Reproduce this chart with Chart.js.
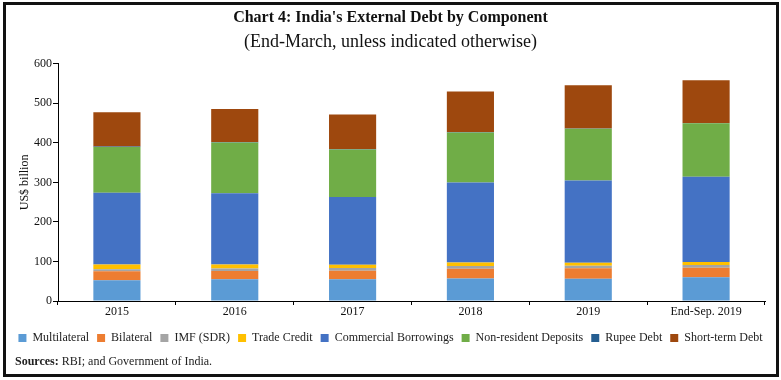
<!DOCTYPE html>
<html>
<head>
<meta charset="utf-8">
<script src="https://cdn.jsdelivr.net/npm/chart.js@4.4.1/dist/chart.umd.min.js"></script>
<style>
  html, body { margin: 0; padding: 0; background: #fff; }
  #wrap { position: relative; width: 781px; height: 380px; overflow: hidden; }
  #c { position: absolute; left: 0; top: 0; }
  #frame { position: absolute; left: 3px; top: 2px; width: 770px; height: 369px; border: 3px solid #111; pointer-events: none; }
  #src { position: absolute; left: 15px; top: 354px; font: 12px "Liberation Serif", serif; color: #222; }
</style>
</head>
<body>
<div id="wrap">
  <canvas id="c" width="781" height="380"></canvas>
  <div id="frame"></div>
  <div id="src"><b>Sources:</b> RBI; and Government of India.</div>
</div>
<script>
const categories = ['2015', '2016', '2017', '2018', '2019', 'End-Sep. 2019'];
const multilateral = [52.5, 55.0, 55.0, 57.0, 56.5, 60.0];
const bilateral = [22.8, 21.0, 21.8, 24.3, 26.4, 24.3];
const imfSdr = [5.0, 6.0, 6.5, 7.0, 6.0, 6.5];
const tradeCredit = [12.0, 10.5, 8.5, 9.4, 7.6, 7.6];
const commercialBorrowings = [181.5, 180.0, 171.5, 202.0, 208.0, 216.0];
const nonResidentDeposits = [115.5, 128.5, 120.0, 126.8, 131.0, 135.0];
const rupeeDebt = [1.5, 1.4, 1.3, 1.2, 1.1, 1.1];
const shortTermDebt = [86.5, 83.0, 87.0, 102.0, 109.0, 108.0];
const yTicks = [0, 100, 200, 300, 400, 500, 600];

const seriesNames = ['Multilateral', 'Bilateral', 'IMF (SDR)', 'Trade Credit', 'Commercial Borrowings', 'Non-resident Deposits', 'Rupee Debt', 'Short-term Debt'];
const seriesData = [multilateral, bilateral, imfSdr, tradeCredit, commercialBorrowings, nonResidentDeposits, rupeeDebt, shortTermDebt];
const seriesColors = ['#5B9BD5', '#ED7D31', '#A5A5A5', '#FFC000', '#4472C4', '#70AD47', '#255E91', '#9E480E'];

const serif = '"Liberation Serif", "DejaVu Serif", serif';

new Chart(document.getElementById('c'), {
  type: 'bar',
  data: {
    labels: categories,
    datasets: seriesNames.map((n, i) => ({
      label: n,
      data: seriesData[i],
      backgroundColor: seriesColors[i],
      borderWidth: 0,
      barPercentage: 0.4,
      categoryPercentage: 1.0
    }))
  },
  options: {
    responsive: false,
    devicePixelRatio: 1,
    animation: false,
    layout: { padding: { left: 0, right: 0, top: 0, bottom: 26 } },
    plugins: {
      title: {
        display: true,
        text: "Chart 4: India's External Debt by Component",
        color: '#111',
        font: { family: serif, size: 16, weight: 'bold' },
        padding: { top: 8, bottom: 0 }
      },
      subtitle: {
        display: true,
        text: '(End-March, unless indicated otherwise)',
        color: '#111',
        font: { family: serif, size: 18 },
        padding: { top: 4, bottom: 11 }
      },
      legend: {
        position: 'bottom',
        labels: {
          boxWidth: 8,
          boxHeight: 8,
          padding: 8,
          color: '#222',
          font: { family: serif, size: 12 }
        }
      },
      tooltip: { enabled: false }
    },
    scales: {
      x: {
        stacked: true,
        grid: { display: true, drawOnChartArea: false, drawTicks: true, tickLength: 4, color: '#000', offset: true },
        border: { display: true, color: '#000', width: 1 },
        ticks: { color: '#111', padding: 0, font: { family: serif, size: 12 } },
        afterFit: (s) => { s.height = 23; }
      },
      y: {
        stacked: true,
        min: 0,
        max: 600,
        afterBuildTicks: (s) => { s.ticks = yTicks.map(v => ({ value: v })); },
        grid: { display: true, drawOnChartArea: false, drawTicks: true, tickLength: 5, color: '#000' },
        border: { display: true, color: '#000', width: 1 },
        ticks: { color: '#111', padding: 1, font: { family: serif, size: 12 } },
        title: { display: true, text: 'US$ billion', color: '#111', font: { family: serif, size: 12 }, padding: { top: 18, bottom: 0 } },
        afterFit: (s) => { s.width = 58; }
      },
      spacer: {
        type: 'linear',
        position: 'right',
        display: true,
        grid: { display: false, drawTicks: false },
        border: { display: false },
        ticks: { display: false },
        afterFit: (s) => { s.width = 16; }
      }
    }
  }
});
</script>
</body>
</html>
